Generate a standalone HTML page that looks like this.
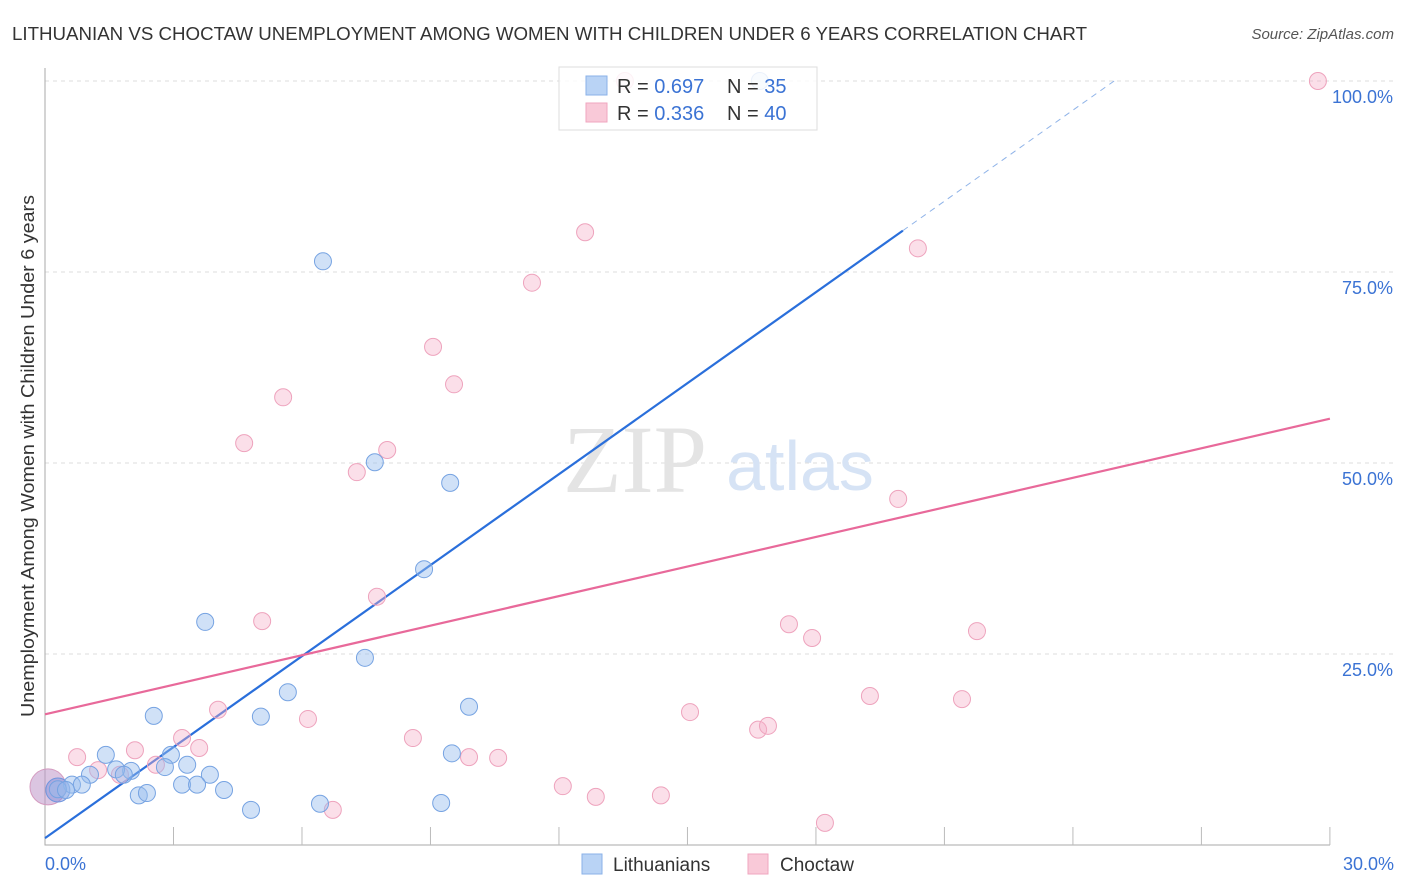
<!DOCTYPE html>
<html><head><meta charset="utf-8"><style>
body{margin:0;background:#fff;font-family:"Liberation Sans",sans-serif}
svg{display:block}
</style></head><body>
<svg id="chart" width="1406" height="892" xmlns="http://www.w3.org/2000/svg">
<text x="12" y="40" font-size="18" fill="#333" textLength="1075" lengthAdjust="spacingAndGlyphs">LITHUANIAN VS CHOCTAW UNEMPLOYMENT AMONG WOMEN WITH CHILDREN UNDER 6 YEARS CORRELATION CHART</text>
<text x="1394" y="39" font-size="15" fill="#555" font-style="italic" text-anchor="end">Source: ZipAtlas.com</text>
<text transform="translate(34,717) rotate(-90)" font-size="18" fill="#333" textLength="522" lengthAdjust="spacingAndGlyphs">Unemployment Among Women with Children Under 6 years</text>
<g id="grid"></g>
<text x="635" y="492" font-size="96" fill="#e4e4e4" font-family="Liberation Serif,serif" text-anchor="middle">ZIP</text>
<text x="800" y="490" font-size="70" fill="#d6e3f5" text-anchor="middle">atlas</text>
<g id="lines"></g>
<g id="points"></g>
<g>
<rect x="559" y="67" width="258" height="63" fill="rgba(255,255,255,0.85)" stroke="#ddd"/>
<rect x="586" y="76" width="21" height="19" fill="#b9d3f5" stroke="#8ab2e8"/>
<rect x="586" y="103" width="21" height="19" fill="#f9c9d8" stroke="#f0a6bf"/>
<text x="617" y="93" font-size="20" fill="#333">R = <tspan fill="#3b73d4">0.697</tspan></text>
<text x="727" y="93" font-size="20" fill="#333">N = <tspan fill="#3b73d4"> 35</tspan></text>
<text x="617" y="120" font-size="20" fill="#333">R = <tspan fill="#3b73d4">0.336</tspan></text>
<text x="727" y="120" font-size="20" fill="#333">N = <tspan fill="#3b73d4">40</tspan></text>
</g>
<g>
<rect x="582" y="854" width="20" height="20" fill="#b9d3f5" stroke="#8ab2e8"/>
<text x="613" y="871" font-size="19" fill="#333">Lithuanians</text>
<rect x="748" y="854" width="20" height="20" fill="#f9c9d8" stroke="#f0a6bf"/>
<text x="780" y="871" font-size="19" fill="#333">Choctaw</text>
</g>
</svg>
<script>
const yTicks=[25,50,75,100];
const yTickLabels=["25.0%","50.0%","75.0%","100.0%"];
const xEndLabels=["0.0%","30.0%"];
const blueX=[6.49,7.70,9.46,8.85,3.74,7.47,5.67,9.90,2.54,5.04,9.50,1.42,2.94,3.32,2.01,2.80,1.66,3.85,1.05,1.84,0.63,0.86,0.30,0.49,3.20,3.55,4.18,2.19,2.38,4.81,6.42,9.25,16.69];
const blueY=[76.4,50.1,47.4,36.1,29.2,24.5,20.0,18.1,16.9,16.8,12.0,11.8,11.8,10.5,9.7,10.2,9.9,9.2,9.2,9.2,7.9,7.9,7.3,7.2,7.9,7.9,7.2,6.5,6.8,4.6,5.4,5.5,100];
const pinkX=[13.54,29.72,12.61,20.38,11.37,9.06,9.55,5.56,4.65,7.99,7.28,19.92,7.75,5.07,17.37,21.76,17.91,19.26,21.41,4.04,15.06,6.14,3.20,8.59,16.65,16.88,3.60,2.10,0.75,9.90,10.58,2.59,1.24,1.75,12.09,12.86,14.38,6.72,18.21];
const pinkY=[100,100,80.2,78.1,73.6,65.2,60.3,58.6,52.6,51.7,48.8,45.3,32.5,29.3,28.9,28.0,27.1,19.5,19.1,17.7,17.4,16.5,14.0,14.0,15.1,15.6,12.7,12.4,11.5,11.5,11.4,10.5,9.8,9.2,7.7,6.3,6.5,4.6,2.9];
const blueLine=[0.9,3.97];   // intercept, slope
const pinkLine=[17.1,1.29];
const sx=v=>45+v*42.83, sy=v=>845-v*7.64;
const NS="http://www.w3.org/2000/svg";
function mk(t,a,p){const e=document.createElementNS(NS,t);for(const k in a)e.setAttribute(k,a[k]);p.appendChild(e);return e;}
const grid=document.getElementById('grid');
yTicks.forEach((t,i)=>{
 const l=mk('line',{x1:45,x2:1395,y1:sy(t),y2:sy(t),stroke:'#ddd','stroke-dasharray':'4,4'},grid);
 
 
 const tx=mk('text',{x:1393,y:sy(t)+22,'font-size':18,fill:'#3b73d4','text-anchor':'end'},grid);tx.textContent=yTickLabels[i];
 
 
});
const ax=mk('path',{d:'M45 68 V845 H1330',stroke:'#aaa',fill:'none'},grid);


for(let v=3;v<=30;v+=3){const t=mk('line',{x1:sx(v),x2:sx(v),y1:827,y2:845,stroke:'#bbb'},grid);
 
 }
[[0,'start',45],[30,'end',1394]].forEach((d,i)=>{const t=mk('text',{x:d[2],y:870,'font-size':18,fill:'#3b73d4','text-anchor':d[1]},grid);t.textContent=xEndLabels[i];
 
 });
const lines=document.getElementById('lines');
const bEnd=20.03, bTop=(100-blueLine[0])/blueLine[1];
let l=mk('line',{x1:sx(0),y1:sy(blueLine[0]),x2:sx(bEnd),y2:sy(blueLine[0]+blueLine[1]*bEnd),stroke:'#2a6fdb','stroke-width':2.2},lines);


l=mk('line',{x1:sx(bEnd),y1:sy(blueLine[0]+blueLine[1]*bEnd),x2:sx(bTop),y2:sy(100),stroke:'#8fb3e8','stroke-width':1,'stroke-dasharray':'6,5'},lines);


l=mk('line',{x1:sx(0),y1:sy(pinkLine[0]),x2:sx(30),y2:sy(pinkLine[0]+pinkLine[1]*30),stroke:'#e8699a','stroke-width':2.2},lines);


const pts=document.getElementById('points');
let c=mk('circle',{cx:sx(0.07),cy:sy(7.6),r:18,fill:'rgba(190,150,200,0.55)',stroke:'#d49bc0'},pts);


c=mk('circle',{cx:sx(0.3),cy:sy(7.2),r:12,fill:'rgba(120,140,220,0.45)',stroke:'#6f95de'},pts);


pinkX.forEach((x,i)=>{const c=mk('circle',{cx:sx(x),cy:sy(pinkY[i]),r:8.5,fill:'rgba(246,175,200,0.4)',stroke:'#eea3bd'},pts);
 
 });
blueX.forEach((x,i)=>{const c=mk('circle',{cx:sx(x),cy:sy(blueY[i]),r:8.5,fill:'rgba(150,188,238,0.45)',stroke:'#76a3e2'},pts);
 
 });
</script>
</body></html>
